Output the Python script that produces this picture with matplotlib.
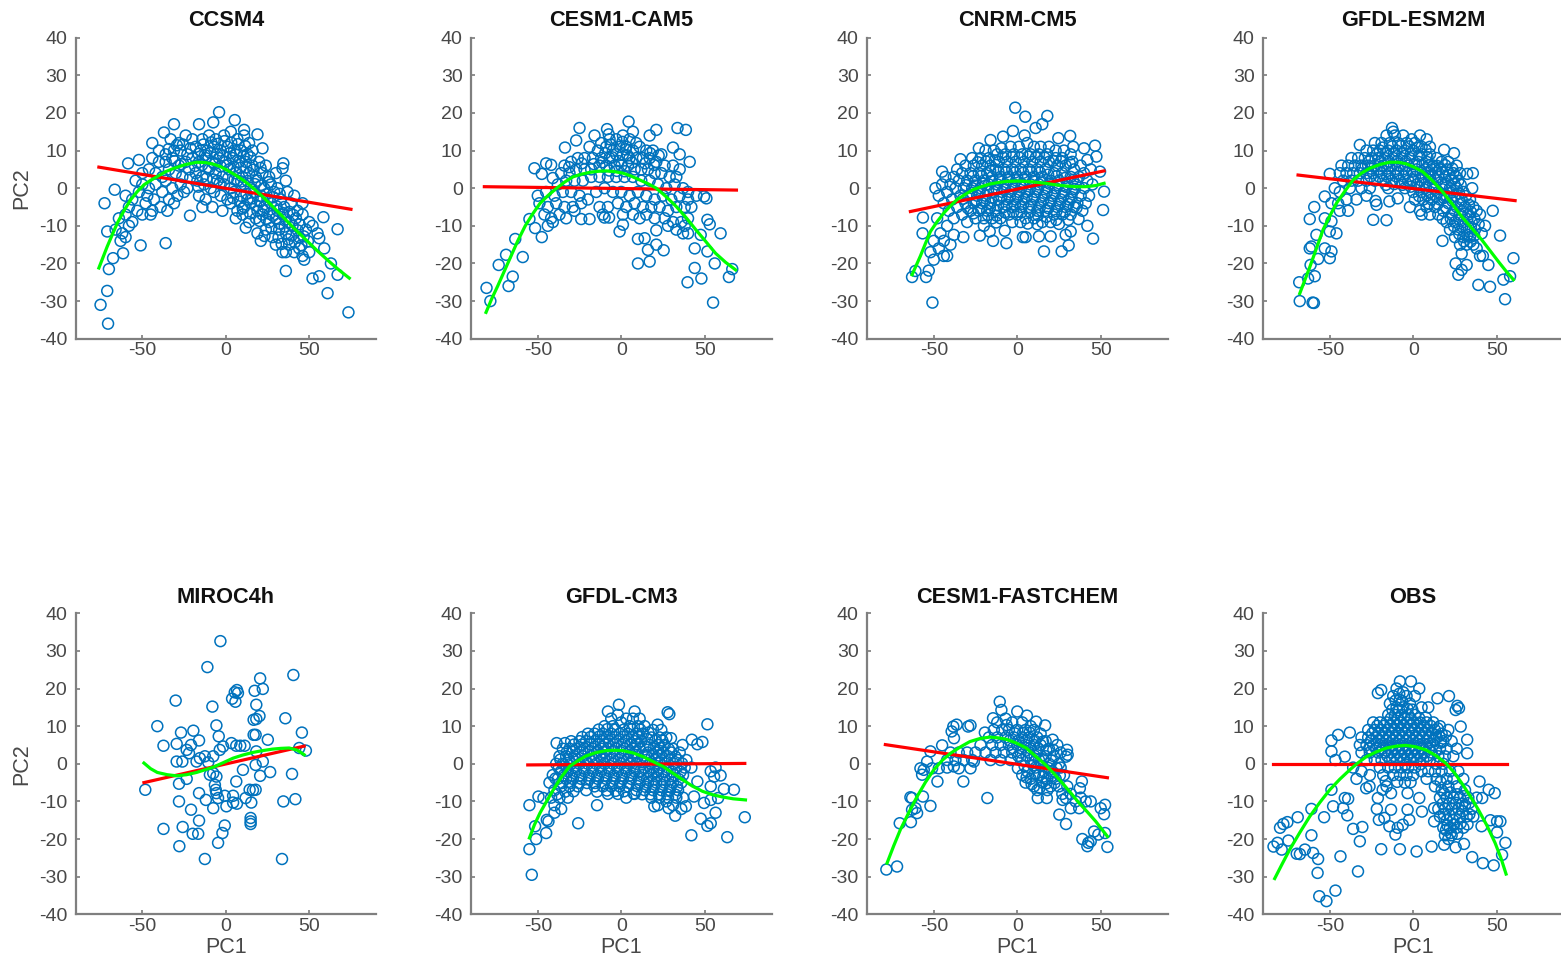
import matplotlib
matplotlib.use("Agg")
import matplotlib.pyplot as plt

plt.rcParams["font.family"] = ["Liberation Sans", "DejaVu Sans"]
plt.rcParams["axes.unicode_minus"] = False

W, H = 1561, 958

titles = ["CCSM4", "CESM1-CAM5", "CNRM-CM5", "GFDL-ESM2M",
          "MIROC4h", "GFDL-CM3", "CESM1-FASTCHEM", "OBS"]
x_ticks = [-50, 0, 50]
y_ticks = [-40, -30, -20, -10, 0, 10, 20, 30, 40]

# points (outliers first, then the dense cloud)
ccsm4_pts = [(-75,-31),(-71,-27.3),(-70.5,-36),(-70,-21.5),(-72.6,-4),(-71,-11.5),(-66.5,-0.4),(-67.5,-18.6),(-61.5,-17.3),(-51,-15.2),
    (-36,-14.6),(-21.4,-7.3),(-58.5,6.6),(-52,7.5),(-44,12),(-37,14.8),(-31,17),(-16,17),(-7.5,17.5),(-4,20.2),(5.4,18.1),(11,15.5),
    (19,14.3),(22,10.6),(34.5,6.6),(34,5.3),(36,-22),(52,-24),(56,-23.4),(61,-27.9),(73.5,-33),(67,-23),(63,-20),(59,-16),(56,-13.3),
    (67,-10.9),(58.5,-7.7),
    (-33,13),(-28,12),(-24,14),(-20,13),(-14,13),(-10,14),(-6,13),(-1,14),(3,15),(7,13),(11,14),(14,12),
    (-40,10),(-36,9),(-31,10),(-27,10),(-23,9),(-18,11),(-15,10),(-11,10),(-7,11),(-3,10),(1,11),(5,10),(9,10),(13,9),(16,10),
    (-44,8),(-40,7),(-36,7),(-32,8),(-28,6),(-24,7),(-20,8),(-16,7),(-12,8),(-8,7),(-4,8),(0,7),(4,8),(8,7),(12,7),(16,6),(20,7),(24,6),
    (-50,4),(-46,5),(-42,4),(-38,3),(-34,5),(-30,4),(-26,3),(-22,5),(-18,4),(-14,3),(-10,5),(-6,4),(-2,3),(2,5),(6,4),(10,3),(14,4),(18,3),(22,4),(26,3),(30,4),
    (-54,2),(-50,1),(-46,0),(-42,1),(-36,2),(-32,0),(-27,1),(-23,0),(-17,2),(-13,1),(-9,0),(-5,2),(-1,1),(3,0),(7,2),(11,1),(15,0),(19,2),(23,0),(27,1),(31,0),(36,2),
    (-60,-2),(-56,-3),(-52,-1),(-47,-2),(-43,-3),(-38,-1),(-34,-3),(-29,-2),(-25,-1),(-16,-2),(-12,-3),(-7,-1),(-3,-2),(1,-3),(5,-1),(9,-2),(13,-3),(17,-1),(21,-2),(25,-3),(29,-1),(33,-3),(37,-1),(41,-2),
    (-58,-5),(-53,-6),(-48,-4),(-44,-6),(-39,-5),(-35,-6),(-31,-4),(-14,-5),(-8,-5),(-2,-6),(3,-4),(7,-6),(11,-5),(15,-4),(19,-6),(23,-5),(27,-4),(31,-6),(35,-5),(39,-4),(43,-6),(46,-4),
    (-64,-8),(-60,-7),(-56,-9),(-50,-7),(-45,-7),(6,-8),(10,-7),(14,-9),(18,-8),(22,-7),(26,-9),(30,-8),(34,-7),(38,-9),(42,-8),(46,-7),(50,-9),
    (-66,-11),(-62,-12),(-58,-10),(12,-10.5),(19,-12),(24,-11),(28,-13),(32,-11),(36,-12),(40,-10),(44,-13),(48,-11),(52,-10),(55,-12),
    (-63,-14),(-60,-13),(21,-14),(30,-15),(34,-17),(38,-15),(41,-17),(44,-16),(47,-19),(46,-18),(50,-17),(36,-17),
    (-13.4,11.6),(-8.7,12.2),(-4.6,11.8),(-0.8,12.5),(3.3,12.1),(7.4,11.7),(11.6,11.2),(-16.3,9.1),(-12.5,8.8),(-9.2,9.4),(-5.3,9.2),(-1.6,8.7),(2.4,9.3),(6.2,8.9),(10.7,8.6),(14.8,8.2),
    (-18.4,5.9),(-14.2,6.2),(-10.3,5.6),(-6.7,6.4),(-3.1,5.8),(0.9,6.1),(4.7,5.7),(8.8,5.4),(12.3,5.5),(16.6,4.9),(20.8,5.4),(-16.4,0.4),(-11.5,2.6),(-7.4,2.3),(-3.7,1.2),(1.5,2.7),(5.3,2.3),(9.2,1.8),(13.1,1.9),(17.4,1.1),(21.3,0.7),(25.7,1.6),
    (-21.3,2.8),(-26.7,6.4),(-30.6,7.2),(-34.2,10.4),(-29.3,11.4),(-25.6,11.6),(-21.2,10.6),(4.4,-2.6),(8.3,-3.6),(12.4,-1.5),(16.1,-2.7),(20.4,-3.6),(24.3,-1.6),(28.4,-2.4),(32.3,-1.5),
    (10.2,-5.4),(14.6,-6.7),(18.3,-4.7),(22.6,-5.9),(26.2,-6.8),(30.4,-4.8),(34.2,-6.6),(38.2,-6.3),(20.3,-8.7),(24.4,-8.2),(28.3,-7.3),(32.2,-9.4),(36.1,-8.3),(40.4,-7.1),(44.3,-9.6),
    (23.2,-12.7),(27.4,-10.6),(31.6,-13.1),(35.3,-10.2),(39.4,-12.6),(43.1,-11.2),(46.7,-12.8),(33.5,-14.8),(37.4,-13.6),(41.4,-14.4),(45.3,-15.2),(49.2,-14.1)]

cam5_pts = [(-80.7,-26.5),(-78.4,-30),(-73.4,-20.4),(-69,-17.7),(-67.5,-26),(-65,-23.5),(-63.5,-13.5),(-59,-18.3),(-55,-8.2),(-51.6,-10.6),
    (-47.6,-13),(-52,5.3),(-47.6,3.8),(-45,6.6),(-42,6.2),(-41,2.7),(-33.7,10.8),(-27,12.7),(-25,16),(-16,14),(-8.5,15.7),(-7.5,14.3),
    (4.4,17.7),(7,15),(17,14),(21,15.5),(33.7,16),(38.7,15.5),(31,10.8),(35,9),(41,7),(49.6,-2.2),(51,-2.7),(51.6,-8.4),(53,-9.6),(59.5,-12),
    (47.6,-12.4),(44,-16),(51.6,-16.8),(56,-20),(44,-21.2),(48,-24),(39.7,-25),(55,-30.4),(64.5,-23.6),(66.5,-21.5),(10,-20),(17,-19.5),
    (25.4,-16.5),(21,-15),(16,-16.4),(10,-13.5),(14,-13.3),(21,-11.2),(-1,-11.5),(1,-9.7),(-24,-8.2),(-19,-8.2),(-10,-7.8),(-7.3,-7.8),
    (-12,12),(-7,13),(-3,13),(1,14),(5,13),(9,12),(-19,11),(-14,10),(-9,11),(-5,10),(-1,11),(3,11),(7,10),(11,11),(15,10),(19,10),(24,9),
    (-34,6),(-30,7),(-26,8),(-22,8),(-17,8),(-12,8),(-7,8),(-3,9),(1,9),(5,8),(9,8),(13,8),(17,8),(21,7),(26,6),(31,6),(35,5),
    (-36,4),(-31,4),(-27,5),(-22,5),(-18,5),(-13,6),(-9,6),(-4,6),(0,6),(4,6),(8,5),(12,5),(16,5),(20,4),(24,4),(29,3),(33,3),
    (-38,1),(-33,2),(-28,2),(-23,2),(-18,3),(-13,3),(-8,3),(-3,3),(2,3),(7,3),(12,2),(17,2),(22,1),(27,0),(32,1),(37,0),(40,-1),
    (-50,-2),(-45,-1),(-40,-2),(-35,-1),(-30,-1),(-25,-2),(-20,-3),(-15,-1),(-10,0),(-5,-1),(0,-1),(5,-2),(10,-1),(15,-2),(20,-3),(25,-2),(30,-3),(35,-2),(40,-3),(45,-2),
    (-49,-4),(-44,-5),(-39,-4),(-34,-5),(-29,-5),(-24,-4),(-13,-5),(-8,-5),(-2,-4),(3,-5),(8,-4),(13,-5),(18,-5),(23,-5),(28,-6),(33,-5),(38,-5),(42,-5),
    (-46,-7),(-42,-8),(-37,-7),(-33,-8),(-28,-6),(-11,-7),(1,-7),(7,-7),(11,-8),(15,-7),(20,-8),(26,-8),(31,-9),(36,-9),(40,-8),
    (-44,-10),(-41,-9),(28,-10),(33,-11),(37,-12),(40,-12),(38,-10),
    (-9.6,9.3),(-5.4,8.2),(-1.4,7.2),(2.6,10.3),(6.4,6.8),(-11.4,6.9),(-6.3,11.6),(0.7,12.3),(3.8,8.7),(-2.6,4.6),(-7.2,4.7),(2.1,4.5),(17.3,9.3),(19.6,6.2),(14.3,6.6),(22.4,8.7),(-16.4,6.4),(-23.7,6.6),(-31.2,5.6)]

cnrm_pts = [(-63,-23.6),(-61,-22),(-54.6,-23.6),(-53,-21.9),(-50.8,-30.4),(-50,-19),(-44,-18),(-42,-18),(-56.5,-7.8),(-56.7,-12),(-49,0),(-45,4.4),
    (-34,7.7),(-23,10.6),(-16,12.8),(-9.5,10.6),(-8.5,13.7),(-2.6,15.2),(-1.2,21.4),(4.8,19),(18,19.2),(15,17),(11,16),(4.4,14),(24.6,13.3),
    (31.7,13.9),(33.5,11),(40,10.6),(46.6,11.3),(47.4,8.4),(42,7.5),(49.6,4.4),(52,-0.9),(51.4,-5.8),(42,-10),(45.4,-13.4),(36.7,-8.2),(30.6,-8.4),
    (30.8,-15.2),(26.6,-16.8),(16,-16.8),(5,-13),(3.4,-13),(-6.5,-14.6),(-14.5,-14),(-22.4,-12.6),(-32.3,-13),(-38,-12.4),(-7.5,-11.3),(-16.5,-11.5),
    (20,-12.8),(13,-12.8),(25,-9.5),(32,-11.5),(29,-12.4),
    (-48,-8),(-46,-12),(-50,-14),(-47,-16),(-44,-14),(-42,-10),(-52,-17),(-40,-15),
    (-19,10),(-14,10),(-4,11),(1,11),(6,12),(10,11),(14,11),(19,11),(23,10),(28,10),(32,9),
    (-27,8),(-22,8),(-17,8),(-12,9),(-7,9),(-2,9),(3,9),(8,9),(13,9),(18,9),(23,8),(27,8),(33,7),(38,6),
    (-36,5),(-31,6),(-26,6),(-21,6),(-16,6),(-11,7),(-6,7),(-1,7),(4,7),(9,7),(14,7),(19,7),(24,6),(29,6),(34,5),(40,4),(44,5),
    (-43,3),(-38,3),(-33,4),(-28,4),(-23,4),(-18,4),(-13,5),(-8,5),(-3,5),(2,5),(7,5),(12,5),(17,5),(22,4),(27,4),(32,3),(37,3),(42,2),
    (-45,1),(-40,1),(-35,2),(-30,2),(-25,2),(-20,2),(-15,3),(-10,3),(-5,3),(0,3),(5,3),(10,3),(15,3),(20,2),(25,2),(30,1),(35,1),(40,0),(45,1),
    (-47,-2),(-42,-1),(-37,0),(-32,0),(-27,0),(-22,0),(-17,1),(-12,1),(-7,1),(-2,1),(3,1),(8,1),(13,1),(18,0),(23,0),(28,-1),(33,-1),(38,-2),(43,-2),
    (-44,-4),(-39,-3),(-34,-2),(-29,-2),(-24,-2),(-19,-2),(-14,-1),(-9,-1),(-4,-1),(1,-1),(6,-1),(11,-1),(16,-2),(21,-2),(26,-3),(31,-3),(36,-4),(41,-4),
    (-41,-6),(-36,-5),(-31,-4),(-26,-4),(-21,-4),(-16,-4),(-11,-3),(-6,-3),(-1,-3),(4,-3),(9,-3),(14,-4),(19,-4),(24,-5),(29,-5),(34,-5),(39,-6),
    (-38,-8),(-33,-7),(-28,-6),(-23,-6),(-18,-6),(-13,-6),(-8,-5),(-3,-5),(2,-5),(7,-5),(12,-6),(17,-6),(22,-7),(27,-7),(32,-7),
    (-30,-9),(-25,-8),(-20,-8),(-15,-8),(-10,-8),(-5,-7),(0,-7),(5,-8),(10,-8),(15,-9),(20,-9),(-20,-10),(-3,-9),(2,-9),
    (-23.6,6.9),(-18.7,7.1),(-13.4,7.4),(-8.6,8.2),(-3.3,8.3),(1.4,8.1),(6.5,8.4),(11.2,8.2),(16.3,8.1),(21.5,7.3),(26.2,7.1),(31.4,6.7),
    (-26.4,3.2),(-21.3,3.3),(-16.2,4.6),(-11.3,4.4),(-6.4,4.3),(-1.3,4.2),(3.6,4.1),(8.4,4.4),(13.6,4.2),(18.5,3.6),(23.6,3.2),(28.5,2.7),(33.4,2.2),
    (-30.7,0.8),(-25.5,0.7),(-20.6,1.2),(-15.4,1.8),(-10.6,2.1),(-5.5,2.2),(-0.6,2.1),(4.4,2.2),(9.5,1.9),(14.6,1.8),(19.4,1.2),(24.5,0.8),(29.4,0.3),(34.4,-0.2),
    (-32.5,-2.8),(-27.4,-1.2),(-22.6,-1.3),(-17.5,-0.6),(-12.4,-0.3),(-7.6,-0.2),(-2.5,-0.1),(2.5,0.2),(7.4,-0.3),(12.4,-0.2),(17.6,-1.1),(22.4,-1.3),(27.6,-2.1),(32.5,-2.4),
    (-29.6,-5.3),(-24.5,-3.2),(-19.4,-3.3),(-14.6,-2.6),(-9.5,-2.3),(-4.4,-2.2),(0.4,-2.1),(5.6,-2.3),(10.4,-2.2),(15.6,-3.1),(20.4,-3.3),(25.5,-4.1),(30.6,-4.2),(35.5,-5.2),
    (-26.3,-6.7),(-21.5,-5.3),(-16.4,-5.2),(-11.5,-4.6),(-6.4,-4.4),(-1.4,-4.3),(3.5,-4.2),(8.5,-4.4),(13.5,-5.1),(18.6,-5.3),(23.5,-6.1),(28.4,-6.3),
    (-17.6,-7.1),(-12.4,-7.3),(-7.5,-6.4),(-2.4,-6.3),(2.5,-6.4),(7.6,-6.3),(12.4,-7.2),(17.5,-7.6),(23.4,-8.4),(-12.6,-9.1),(6.3,-9.4),(12.1,-9.6)]

esm2m_pts = [(-68,-30),(-68.3,-25),(-60.3,-30.4),(-59.5,-30.5),(-59,-23.4),(-63,-24),(-61.5,-20.4),(-62,-16),(-61,-15.5),(-57,-18.8),(-50,-18.6),
    (-49,-16.8),(-53,-16),(-58,-12.4),(-62,-8.2),(-59.3,-5),(-53,-8),(-49,-8.8),(-46,-12),(-50,-11.5),(-53,-2.2),(-49,-4),(-50,3.8),(-24,-8.4),
    (-16,-8.5),(-22,-4.4),(-22.6,-3.4),(-14.3,-3.5),(-9.3,-2.7),(-32,11.5),(-12.7,16),(-12,15),(18.5,10.2),(24.4,9.3),(32.3,3.8),(35.7,4),(35.3,0),
    (47.6,-6),(43,-10),(52,-12.6),(60,-18.6),(45,-20.4),(39,-25.7),(46,-26.2),(54,-24.3),(58,-23.4),(55,-29.5),(27,-23),(25.4,-20),(29,-21.7),
    (32,-20.4),(29,-17.4),(17.5,-14),(40,-18),(41.7,-18),
    (-16,14),(-11,14),(-6,14),(-1,13),(4,14),(8,13),(-23,12),(-19,12),(-14,12),(-9,12),(-4,12),(1,12),(5,11),(10,11),
    (-28,10),(-24,10),(-20,10),(-15,10),(-10,10),(-5,10),(0,10),(5,9),(10,9),(14,8),
    (-37,8),(-33,8),(-29,8),(-25,8),(-21,8),(-17,8),(-12,8),(-7,8),(-2,8),(3,7),(8,7),(12,6),(17,7),(21,7),(26,6),
    (-43,6),(-39,6),(-35,6),(-31,6),(-27,6),(-23,6),(-18,6),(-13,6),(-8,6),(-3,6),(2,5),(7,5),(11,5),(16,5),(20,5),(24,4),(28,4),
    (-44,4),(-40,4),(-36,4),(-32,4),(-28,4),(-24,4),(-19,4),(-14,4),(-9,4),(-4,4),(1,3),(6,3),(10,3),(15,3),(19,3),(23,2),(27,2),
    (-42,2),(-37,2),(-33,2),(-28,2),(-23,2),(-18,2),(-13,2),(-8,2),(-3,2),(2,1),(7,1),(12,1),(17,1),(22,0),(26,0),(30,-1),
    (-47,0),(-44,-1),(-38,0),(-31,0),(-26,0),(-15,0),(-5,0),(0,-1),(5,-1),(10,-1),(15,-1),(20,-2),(25,-2),(29,-3),(34,-3),
    (-45,-4),(-40,-3),(-34,-3),(-28,-2),(1,-3),(6,-3),(11,-3),(16,-3),(21,-4),(26,-5),(31,-5),(36,-5),
    (-44,-6),(-39,-6),(-2,-5),(4,-6),(8,-5),(13,-5),(18,-6),(23,-7),(28,-7),(33,-7),(38,-6),(40,-7),
    (5,-7),(10,-7),(15,-7),(20,-9),(25,-9),(30,-9),(35,-9),(22,-11),(27,-11),(32,-11),(37,-11),(41,-12),(25,-13),(30,-13),(34,-13),(28,-15),(32,-15),(36,-15),(38,-16),
    (-18.4,10.8),(-12.6,11.1),(-7.4,11.2),(-2.5,11.1),(2.6,10.8),(7.4,10.2),(-21.6,9.1),(-16.5,9.2),(-11.6,9.1),(-6.5,9.2),(-1.4,9.1),(3.4,8.6),(8.5,8.2),
    (-26.4,7.1),(-19.5,7.1),(-14.6,7.1),(-9.5,7.2),(-4.4,7.1),(0.6,6.4),(5.5,6.2),(9.6,6.1),(14.4,5.9),(19.2,6.1),(23.4,5.2),
    (-30.4,5.1),(-25.4,5.2),(-20.6,5.1),(-15.5,5.2),(-10.6,5.1),(-5.5,5.1),(-0.6,4.4),(4.4,4.1),(8.6,4.2),(13.4,4.1),(17.6,4.2),(21.5,3.4),(25.5,3.1),
    (-25.6,3.1),(-20.5,3.1),(-15.6,3.1),(-10.5,3.2),(-5.6,3.1),(-0.5,2.1),(4.6,2.1),(9.5,2.2),(14.5,2.1),(19.4,1.2),(24.6,1.1),(28.4,0.9),
    (-16.4,0.9),(-11.4,1.1),(-6.4,0.9),(-1.5,0.4),(3.5,0.2),(7.6,0.1),(12.5,-0.1),(17.5,-0.3),(22.6,-1.2),(27.4,-1.4),(31.5,-2.1),
    (3.5,-2.1),(8.4,-1.9),(13.5,-2.1),(18.4,-2.6),(23.4,-3.4),(28.5,-4.1),(33.4,-4.4),(9.4,-4.1),(14.6,-4.2),(19.6,-5.1),(24.6,-5.9),(29.6,-6.1),(34.5,-6.3),
    (17.6,-8.1),(22.5,-8.1),(27.4,-8.3),(32.4,-8.2),(36.6,-8.1),(24.4,-10.1),(29.4,-10.2),(34.5,-10.3),(39.2,-9.6),(27.6,-12.2),(32.4,-12.4),(36.5,-12.6),(30.4,-14.1),(34.3,-14.2)]

miroc_pts = [(-3.2,32.6),(-11,25.7),(40.5,23.6),(20.6,22.7),(22.2,19.9),(17.3,19.4),(6.7,19.6),(5.4,19),(7.3,18.8),(3.8,17.3),(5.8,16.5),(-30,16.8),
    (-8,15.2),(18.3,15.7),(20.2,12.7),(16.7,11.7),(18.3,11.9),(35.7,12.1),(-41,10),(-5.6,10.2),(-26.8,8.3),(-19.4,8.8),(45.6,8.3),(16.7,7.7),(17.9,7.7),
    (-4.2,7.3),(-16,6.2),(25.2,6.4),(-37.3,4.8),(-29.4,5.3),(-20.8,5),(3.4,5.5),(6.3,4.8),(8.7,4.8),(11.3,4.8),(-1.6,4.6),(-3.6,3.7),(-23.4,3.7),(-22,2.8),
    (44,4.2),(48,3.5),(18.3,3.3),(-29.4,0.6),(-26,0.6),(-17.5,0.6),(-15.5,1.5),(-12.5,2),(-7.5,2),(-10.5,0.4),(22.2,0.6),(17.9,-0.3),(10.3,-1.6),(-7.5,-2.5),
    (-9.5,-2.9),(-5.6,-3.4),(-23.4,-4),(26.6,-2.2),(20.6,-3.2),(39.7,-2.7),(6.3,-4.7),(-28,-5.3),(-48.2,-6.9),(-6.5,-5.6),(-6,-6.9),(-5.6,-7.8),(-16,-7.8),
    (14.3,-6.9),(17.9,-6.9),(16.3,-7),(-0.6,-8.5),(4.4,-8.5),(-4.6,-9.1),(11.9,-9.1),(-28,-10),(-11.9,-9.6),(15.3,-10.3),(34.5,-10),(41.7,-9.4),(6.7,-10.6),
    (4.4,-10.3),(0.4,-11.3),(-7.5,-11.8),(-20.8,-12.2),(-16,-15.1),(14.9,-14.4),(14.9,-15.3),(14.9,-16),(-37.3,-17.3),(-25.8,-16.8),(-0.6,-16.4),(-2,-18.4),
    (-19.8,-18.6),(-16.5,-18.6),(-4.6,-21),(-27.8,-21.9),(-12.5,-25.3),(33.7,-25.3)]

cm3_pts = [(-53.6,-29.5),(-55,-22.7),(-51,-20),(-55,-11),(-51.6,-16.6),(-45,-18.4),(-49.6,-8.7),(-46.6,-9.1),(-44.6,-14.9),(-43.6,-15.3),(-38.7,5.5),(-33.7,5.5),
    (-25.8,-15.8),(-14.5,-11),(-1.4,15.7),(-8,13.9),(8,13.9),(27.8,13.7),(28.8,13.2),(21.8,10.4),(51.6,10.5),(42.3,6.4),(48.6,5.8),(45.6,5.2),(36.7,5),(29.8,6.8),
    (56.5,-1),(53.6,-2),(59.5,-3.1),(55.6,-3.4),(53.6,-6),(61.5,-6.7),(67.5,-6.9),(58,-9.1),(53.6,-9.6),(49.6,-10.4),(56.5,-13),(47.6,-14.6),(53.6,-15.8),(51.6,-16.5),
    (42,-19),(63.5,-19.5),(74,-14.2),(32.3,-13.8),(28.4,-11.8),(19.8,-11.3),(38.7,-11.3),(43.6,-8.7),(45.6,-4.7),
    (-6,12),(-2,13),(3,12),(7,12),(11,12),(-10,10),(-5,10),(0,11),(5,10),(10,10),(14,10),(19,9),(24,9),
    (-20,8),(-16,8),(-11,8),(-6,8),(-1,8),(4,8),(9,8),(13,8),(18,7),(23,7),(27,7),
    (-30,6),(-25,6),(-21,6),(-16,6),(-11,6),(-7,6),(-2,6),(3,6),(8,6),(12,6),(17,5),(22,5),(26,5),(31,4),
    (-35,4),(-31,4),(-27,4),(-22,4),(-17,4),(-12,4),(-8,4),(-3,4),(2,4),(7,4),(11,4),(16,3),(21,3),(25,3),(30,3),(35,3),
    (-37,2),(-33,2),(-28,2),(-23,2),(-18,2),(-13,2),(-9,2),(-4,2),(1,2),(6,2),(10,2),(15,1),(20,1),(24,1),(29,1),(34,1),(39,1),
    (-39,0),(-35,0),(-30,0),(-25,0),(-20,0),(-15,0),(-10,0),(-5,0),(0,0),(5,0),(9,0),(14,-1),(19,-1),(23,-1),(28,-1),(33,-1),(38,-1),(42,-1),
    (-41,-3),(-36,-2),(-32,-2),(-27,-2),(-22,-2),(-17,-2),(-12,-2),(-7,-2),(-2,-2),(3,-2),(8,-2),(13,-3),(18,-3),(22,-3),(27,-3),(32,-3),(37,-3),
    (-43,-5),(-38,-4),(-33,-4),(-29,-4),(-24,-4),(-19,-4),(-14,-4),(-9,-4),(-4,-4),(1,-4),(6,-4),(11,-5),(16,-5),(21,-5),(26,-5),(31,-5),(36,-5),
    (-40,-7),(-36,-6),(-31,-6),(-26,-6),(-21,-7),(-16,-6),(-11,-6),(-6,-6),(-1,-6),(4,-6),(9,-7),(14,-7),(19,-7),(24,-7),(29,-7),(34,-7),
    (-42,-9),(-37,-9),(-32,-9),(-8,-8),(-2,-8),(3,-9),(8,-8),(18,-9),(23,-9),(28,-9),(33,-9),(37,-9),
    (-40,-11),(-36,-12),(-40,-13),(22,-11),(27,-10),(31,-11),(36,-12),
    (-13.5,9.1),(-8.4,9.2),(-3.5,9.1),(1.6,9.1),(6.5,9.2),(11.4,9.1),(16.3,8.3),(-23.4,7.1),(-18.5,7.1),(-13.4,7.2),(-8.6,7.1),(-3.5,7.1),(1.4,7.2),(6.5,7.1),(10.4,7.2),(15.6,6.6),(20.4,6.1),(24.6,6.2),
    (-28.4,5.1),(-23.6,5.1),(-18.5,5.2),(-13.6,5.1),(-9.4,5.1),(-4.6,5.2),(0.4,5.1),(5.5,5.1),(9.6,5.2),(14.5,4.6),(19.4,4.1),(23.6,4.2),(28.5,3.9),
    (-32.6,3.1),(-29.4,3.2),(-24.5,3.1),(-19.6,3.2),(-14.5,3.1),(-10.4,3.1),(-5.5,3.2),(-0.5,3.1),(4.6,3.1),(8.5,3.1),(13.6,2.2),(18.4,2.1),(22.6,2.2),(27.6,2.1),(32.4,1.9),
    (-36.5,1.1),(-31.4,1.1),(-26.5,1.2),(-21.4,1.1),(-16.6,1.1),(-11.5,1.2),(-6.4,1.1),(-1.5,1.1),(3.4,1.1),(7.6,1.1),(12.5,0.4),(17.4,0.1),(21.6,0.2),(26.4,0.1),(31.4,0.1),(36.4,0.1),
    (-37.4,-1.1),(-32.5,-1.1),(-27.6,-0.9),(-22.5,-1.1),(-17.4,-1.1),(-12.6,-0.9),(-7.5,-1.1),(-2.4,-0.9),(2.4,-1.1),(7.4,-0.9),(11.5,-1.9),(16.5,-2.1),(21.4,-2.1),(25.6,-2.1),(30.5,-2.1),(35.5,-2.1),
    (-39.4,-3.9),(-34.6,-3.1),(-29.5,-3.1),(-24.6,-3.1),(-19.5,-3.1),(-14.5,-3.1),(-9.6,-3.1),(-4.5,-3.1),(0.5,-3.1),(5.4,-3.1),(10.5,-3.9),(15.4,-3.9),(19.6,-4.1),(24.5,-4.1),(29.4,-4.1),(34.5,-4.1),
    (-35.5,-5.1),(-30.5,-5.1),(-25.5,-5.1),(-20.5,-5.1),(-15.6,-5.1),(-10.4,-5.1),(-5.4,-5.1),(-0.4,-5.1),(4.5,-5.1),(9.4,-5.9),(14.4,-6.1),(19.4,-6.1),(24.4,-6.1),(29.5,-6.1),(33.5,-6.1),
    (-38.4,-8.1),(-33.5,-7.4),(-28.6,-7.3),(-14.5,-7.4),(-8.6,-7.1),(-3.4,-7.2),(1.6,-7.3),(7.4,-7.9),(12.5,-8.1),(17.5,-8.1),(22.5,-8.1),(27.5,-8.1),(32.5,-8.2)]

fastchem_pts = [(-78.4,-28.1),(-72,-27.3),(-70.4,-15.8),(-63.7,-15.5),(-64,-8.9),(-63,-9.1),(-63,-12.2),(-60,-13.1),(-61,-11.8),(-56.5,-8.7),(-52,-11.2),(-47.8,-4.7),
    (-32.3,-4.7),(-17.9,-9.1),(-10.5,16.5),(-9.5,14.3),(0,13.9),(5.8,12.8),(16.7,10.2),(11.3,11.2),(-14.5,12.1),(-36.3,10.4),(-38.3,9.9),(-39.3,8.6),(-29.4,9.9),(-28,10.2),
    (-37.9,6.8),(-45,4.9),(-52,3.3),(-19.4,8.3),(21.2,6.4),(29.8,3.7),(30.2,2.4),(29.2,1.9),(38.7,-4.7),(37.5,-6.5),(12.3,-9.1),(17.7,-9.1),(27.2,-9.6),(29.2,-9.1),
    (25.2,-13.5),(29.2,-16),(32.1,-11.8),(37.1,-11.8),(44,-10),(50,-11.8),(52.6,-10.9),(52,-13.4),(52.6,-18.4),(54,-22.1),(39,-20),(42,-21.9),(44,-20.6),(46,-18),
    (48.6,-18.8),(42.6,-21),(-58,-1.2),(-57,-2.9),(-54,0.6),(-51,-1.2),(-47,-1.2),(-56,-1.6),(-38,-0.7),(-35,-1.2),(-28,-1.2),(-26,0.6),(0.4,-1.2),
    (-12,11),(-7,12),(-3,11),(3,11),(8,10),(-14,9),(-9,9),(-5,9),(0,9),(5,9),(10,9),(14,8),
    (-17,7),(-12,7),(-7,7),(-2,7),(3,7),(7,7),(12,7),(17,6),(-22,5),(-15,5),(-10,5),(-5,5),(0,5),(5,5),(10,5),(14,5),(19,4),(24,5),
    (-40,3),(-35,3),(-30,3),(-25,3),(-19,3),(-13,3),(-8,3),(-3,3),(2,3),(7,3),(12,3),(17,2),(22,2),(26,3),
    (-42,1),(-37,1),(-32,1),(-27,1),(-16,1),(-10,1),(-4,1),(3,1),(8,1),(13,1),(19,0),(25,0),(-42,-1),(6,-2),(11,-1),(16,-2),(21,-2),(26,-1),
    (3,-3),(8,-4),(13,-3),(18,-4),(23,-4),(28,-3),(5,-5),(10,-6),(15,-5),(20,-6),(25,-6),(30,-6),(12,-7),(18,-7),(27,-8),(32,-8),(38,-9),(35,-10),(41,-10),
    (-6.4,10.3),(-1.5,8.1),(3.5,8.2),(7.4,8.3),(-4.5,6.2),(0.6,6.1),(5.4,6.2),(10.5,6.1),(15.4,5.9),(-2.6,4.2),(2.5,4.1),(7.6,4.2),(12.5,4.1),(17.4,3.6),(21.6,3.7),
    (0.6,2.1),(5.5,2.2),(10.4,2.1),(15.5,1.2),(20.4,0.9),(4.4,-0.6),(9.6,-0.4),(14.4,-0.6),(18.6,-1.1),(23.5,-1.1),(5.6,-3.6),(10.5,-2.6),(15.6,-3.4),(20.6,-3.3),(25.5,-3.1),(8.6,-5.4),(13.4,-6.4),(17.5,-5.2),(22.4,-5.1)]

obs_pts = [(-83.7,-22),(-81.3,-21),(-78.8,-22.8),(-74.8,-20.4),(-69.8,-23.9),(-67.9,-24),(-64.9,-22.8),(-61,-19),(-60,-23.7),(-57,-25.3),(-57.3,-29),(-56.3,-35.2),
    (-52,-36.5),(-46.6,-33.7),(-43.6,-24.6),(-33.1,-28.6),(-32,-20.6),(-36,-17.3),(-30.5,-16.8),(-39.5,-13.7),(-79.8,-17),(-77.8,-16),(-75.4,-15.5),(-69.2,-14.2),(-61,-12),
    (-53.4,-14.2),(-48,-11.3),(-42,-11.8),(-41,-9.1),(-39,-9.3),(-49,-6.9),(-49,6.2),(-45,7.7),(-38,8.3),(-49,3.3),(-46.6,1),(-41,1.9),(-19.2,-22.7),(-8,-22.7),(2,-23.3),
    (11,-22),(18.5,-21.5),(25.4,-22.2),(30.4,-21.3),(35.3,-24.8),(41.7,-26.4),(48.2,-27),(53.2,-24.2),(55.2,-21),(50.2,-18.2),(52.2,-15.3),(50.2,-15.3),(46.2,-15),(40.9,-16.6),
    (39.7,-4.7),(45.2,-6.9),(48.8,-7.8),(41.3,-9.1),(-19.2,19.6),(-21.2,18.8),(-8,21.9),(-1.4,21.9),(3.6,20),(21.4,18),(14.5,17.4),(26.4,15.4),(27.4,14.8),(25.4,14.3),
    (32.3,2.8),(32.3,6.4),(28.4,9.9),(-21.2,-9.1),(-21.8,-12),(-20.6,-14.9),(-17.3,-14.4),(-13.3,-12.2),(-14.3,-16.6),(-10.7,-18.8),(-9.3,-17),(-6.3,-16.2),(-3.4,-12.2),
    (-2.4,-14.9),(-3.4,-7.8),(3.6,-9.1),(5.2,-12.7),(12.5,-11.8),(12.5,-15.3),(-18.3,-6.9),(-13.3,-7.8),(-26.2,-6),(-28.2,-6.5),
    (-10,20),(-6,19),(-12,18),(-8,17),(-4,18),(1,18),(-14,16),(-10,15),(-6,15),(-2,16),(5,15),(9,15),(-15,13),(-11,13),(-7,13),(-3,13),(1,13),
    (-24,11),(-20,11),(-16,11),(-12,11),(-8,11),(-4,11),(0,11),(4,11),(8,11),(12,11),(16,10),(-27,9),(-23,9),(-19,9),(-15,9),(-11,9),(-7,9),(-3,9),(1,9),(5,9),(9,9),(13,9),(17,8),(21,9),
    (-31,7),(-27,7),(-22,7),(-18,7),(-14,7),(-10,7),(-6,7),(-2,7),(2,7),(6,7),(10,7),(14,7),(18,6),(23,6),(-32,5),(-28,5),(-24,5),(-20,5),(-16,5),(-12,5),(-8,5),(-4,5),(0,5),(4,5),(8,5),(12,5),(16,4),(20,4),(26,4),
    (-31,3),(-26,3),(-21,3),(-17,3),(-13,3),(-9,3),(-5,3),(-1,3),(3,3),(7,3),(11,3),(15,2),(19,2),(24,2),
    (-28,1),(-23,1),(-19,1),(-14,1),(-10,1),(-6,1),(-2,1),(2,1),(6,1),(10,1),(14,0),(18,0),(-36,-1),(-31,-2),(-20,-1),(-15,-1),(-11,-1),(-7,-1),(-3,-1),(1,-1),(5,-2),(9,-2),(13,-2),(17,-2),(22,-2),(27,-2),
    (-34,-4),(-26,-3),(-18,-3),(-12,-3),(-8,-3),(-4,-3),(0,-3),(8,-4),(14,-4),(20,-4),(24,-4),(30,-4),(-16,-6),(-5,-5),(13,-6),(17,-7),(21,-6),(26,-6),(31,-7),
    (16,-9),(20,-9),(24,-9),(28,-9),(33,-9),(38,-9),(15,-12),(19,-12),(23,-12),(27,-12),(31,-11),(35,-12),(16,-14),(20,-15),(24,-15),(28,-14),(32,-14),(36,-14),(18,-17),(22,-17),(26,-17),(30,-17),(19,-19),(23,-19),(21,-20),
    (-8.4,18.6),(-10.6,16.8),(-6.6,16.6),(-3.4,14.6),(-12.5,14.4),(-8.4,14.2),(-0.6,14.4),(-13.4,12.1),(-9.4,12.1),(-5.4,12.2),(-1.5,12.1),(3.6,12.1),(7.5,12.3),(-21.6,10.1),(-17.4,10.1),(-13.5,10.1),(-9.5,10.2),(-5.6,10.1),(-1.4,10.2),(2.6,10.1),(6.5,10.1),(10.4,10.1),(14.6,9.4),
    (-24.5,8.1),(-20.6,8.1),(-16.5,8.1),(-12.4,8.2),(-8.5,8.1),(-4.6,8.1),(-0.5,8.2),(3.6,8.1),(7.4,8.1),(11.5,8.1),(15.5,7.4),(19.6,7.4),
    (-25.4,6.1),(-20.5,6.1),(-16.4,6.1),(-12.5,6.2),(-8.4,6.1),(-4.5,6.1),(-0.4,6.1),(3.4,6.1),(8.5,6.1),(12.6,6.2),(16.4,5.6),(-26.4,4.1),(-22.4,4.1),(-18.5,4.1),(-14.4,4.2),(-10.5,4.1),(-6.4,4.1),(-2.5,4.1),(1.4,4.1),(5.5,4.1),(9.4,4.1),(13.6,3.6),
    (-15.6,2.1),(-11.4,2.1),(-7.5,2.1),(-3.4,2.1),(0.5,2.1),(4.6,2.1),(8.4,2.1),(-4.5,-0.2),(4.5,-0.1),(-16.5,-4.6),(-9.6,-4.8),(-1.6,-4.9),(16.4,-4.8),(18.6,-7.9),(22.4,-7.6),(26.4,-8.1),(30.4,-8.6),(17.6,-10.6),(21.5,-10.6),(25.6,-10.4),(29.4,-10.6),(33.5,-10.4),
    (18.4,-13.4),(21.6,-13.6),(25.6,-13.4),(29.6,-12.6),(33.6,-13.4),(20.5,-16.4),(24.4,-16.2),(28.4,-15.8),(32.5,-16.1),(22.4,-18.4),(26.4,-18.6),(19.6,-17.6)]

points = [ccsm4_pts, cam5_pts, cnrm_pts, esm2m_pts, miroc_pts, cm3_pts, fastchem_pts, obs_pts]

# linear fit ends
red_lines = [
    [(-76, 5.6), (75, -5.6)],
    [(-82, 0.4), (69, -0.5)],
    [(-64, -6.2), (52, 4.6)],
    [(-69, 3.5), (61, -3.3)],
    [(-49, -5), (47, 4.7)],
    [(-56, -0.3), (74, 0.1)],
    [(-79, 5.1), (54, -3.7)],
    [(-84, -0.1), (56, -0.1)],
]

# green curves read at intervals along each fit
green_lines = [
    [(-76,-21.2),(-71,-15.5),(-65,-9.3),(-61,-6),(-57,-3.1),(-53,-0.9),(-49,0.9),(-45,2.1),(-41,3.1),(-36,4.4),(-31,5.3),(-24,6.3),(-17.5,6.9),(-12,6.8),(-7.5,6.4),(-3,5.7),(0.4,4.9),(5,3.7),(10.3,2.2),(16,0.2),(22,-2.2),(28,-4.8),(34,-7.5),(41,-10.7),(48,-13.7),(55,-16.7),(62,-19.5),(68,-21.8),(74,-23.9)],
    [(-81,-33),(-77.5,-29.3),(-74,-26),(-70,-22),(-66,-18),(-62,-14),(-57.5,-10),(-53,-6.8),(-48.6,-4),(-44,-2),(-38.7,0),(-34,1.6),(-29,3),(-24,3.7),(-19,4.2),(-14,4.5),(-9,4.6),(-4,4.4),(1,4),(6,3.2),(11,2.2),(16,1.2),(21,0),(27,-2.3),(33,-4.9),(39,-7.9),(44.6,-11),(50.5,-14.1),(56.5,-17.3),(62.5,-19.7),(68.5,-21.7)],
    [(-63,-23),(-60.5,-20.5),(-58,-18),(-55,-14.7),(-52,-11.5),(-48,-8.9),(-44,-6.6),(-40,-4.7),(-36,-3),(-31,-1.6),(-26.5,-0.4),(-21.5,0.4),(-16.5,1.1),(-11.5,1.5),(-6.5,1.8),(-0.5,1.9),(5.4,1.8),(11,1.6),(17,1.3),(23,0.9),(29,0.6),(35,0.4),(41,0.4),(47,0.7),(52,1.3)],
    [(-68,-28),(-65,-24.5),(-62,-21),(-58,-16),(-54,-11),(-50,-7.4),(-46,-4),(-41,-0.8),(-36,2.2),(-31,4),(-26,5.3),(-20,6.3),(-14.3,6.9),(-9,6.9),(-4.4,6.5),(0.5,5.6),(5.6,4.4),(11.5,2),(17.5,-0.9),(23,-4),(29,-7.5),(35,-10.6),(41,-13.7),(46,-16.6),(51,-19.5),(55.5,-22),(60,-24.3)],
    [(-49,0.2),(-45,-1.3),(-41,-2.3),(-35,-2.9),(-29.4,-3.2),(-23.5,-2.9),(-17.5,-2.3),(-12.5,-1.6),(-7.5,-0.9),(-1.5,0.3),(4.4,1.5),(10,2.3),(16,3),(22,3.5),(28,3.9),(33,4.1),(38,4.2),(43,3.6),(47,2.4)],
    [(-55,-19.7),(-52,-16.2),(-48.6,-13),(-44.5,-9.8),(-40.7,-6.9),(-36,-3.6),(-31,-0.7),(-26,0.8),(-21,2.1),(-15,3),(-9,3.5),(-4,3.6),(1,3.5),(7,2.9),(13,1.9),(19,0.6),(25,-0.7),(31,-2.5),(36.7,-4.2),(42.5,-5.9),(48.6,-7.3),(54.5,-8.2),(60.5,-8.8),(67,-9.3),(74.4,-9.6)],
    [(-78,-26.4),(-74,-21.8),(-70,-17.5),(-65,-13),(-60,-8.7),(-55,-4.9),(-50,-1.6),(-45,0.9),(-40,2.8),(-34,4.5),(-28.4,5.9),(-22.5,6.7),(-16.5,7.1),(-11.5,6.9),(-6.5,6.5),(-0.5,5.5),(5.4,4.2),(11,2),(17,-0.3),(22,-2.6),(27,-5.1),(32,-7.7),(37,-10.4),(42,-12.8),(47,-15.3),(54,-19.3)],
    [(-83,-30.5),(-78.5,-26.6),(-74,-22.8),(-68,-18.3),(-62,-14),(-56,-10.3),(-50,-6.9),(-44,-4.1),(-38,-1.6),(-33,0.3),(-28,1.9),(-22,3.2),(-16,4.2),(-10,4.7),(-4.4,4.9),(1.5,4.5),(7.5,3.7),(13.5,2.2),(19.4,0.2),(24.5,-2.3),(29,-5.1),(34,-8.5),(39,-12.2),(44,-16.3),(49,-21),(52.5,-25),(55.6,-29.3)],
]

# pixel positions of the axes: left edge of each column, top/bottom of each row
col_left = [75.5, 471, 867, 1263]
ax_width = 300.5
row_top = [37.7, 613.3]
ax_height = 301

fig = plt.figure(figsize=(W / 100, H / 100), dpi=100)

for i in range(8):
    row, col = divmod(i, 4)
    left = col_left[col] / W
    bottom = 1 - (row_top[row] + ax_height) / H
    ax = fig.add_axes([left, bottom, ax_width / W, ax_height / H])

    xs = [p[0] for p in points[i]]
    ys = [p[1] for p in points[i]]
    ax.scatter(xs, ys, s=62, facecolors="none", edgecolors="#0072BD", linewidths=1.1)

    rx, ry = zip(*red_lines[i])
    ax.plot(rx, ry, color="#ff0000", lw=2.3)
    gx, gy = zip(*green_lines[i])
    ax.plot(gx, gy, color="#00ff00", lw=2.3)

    ax.set_xlim(-90, 90)
    ax.set_ylim(-40, 40)
    ax.set_xticks(x_ticks)
    ax.set_yticks(y_ticks)
    ax.tick_params(direction="in", length=3, width=1.2, color="#7a7a7a",
                   labelcolor="#484848", labelsize=14)
    ax.tick_params(axis="y", pad=6)
    ax.tick_params(axis="x", pad=2.5)
    for side in ["top", "right"]:
        ax.spines[side].set_visible(False)
    for side in ["left", "bottom"]:
        ax.spines[side].set_color("#7f7f7f")
        ax.spines[side].set_linewidth(1.6)

    ax.set_title(titles[i], fontsize=15.7, fontweight="bold", color="#111111",
                 pad=8.5 if row == 0 else 7.5)
    if col == 0:
        ax.set_ylabel("PC2", fontsize=15.5, color="#484848", labelpad=5)
    if row == 1:
        ax.set_xlabel("PC1", fontsize=15.5, color="#484848", labelpad=1.5)

fig.savefig("out.png", dpi=100)
